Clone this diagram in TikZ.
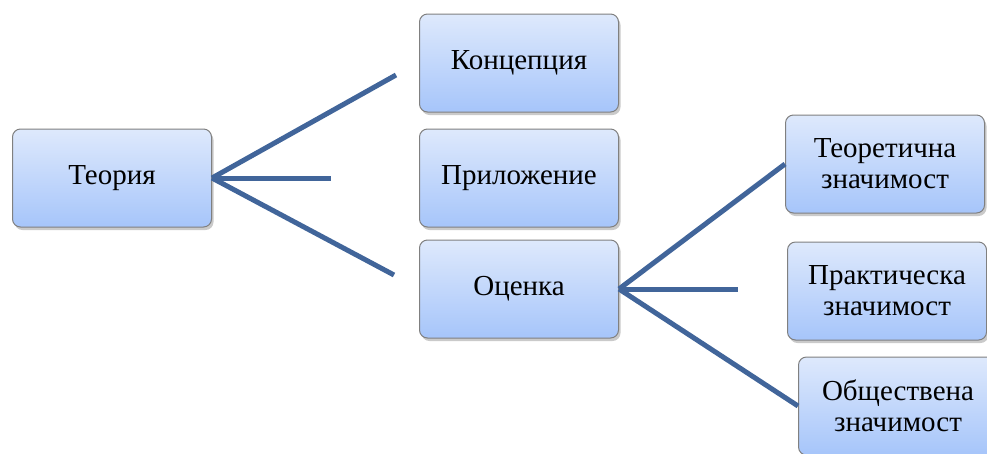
\documentclass[tikz,border=0pt]{standalone}
\usepackage{fontspec}
\setmainfont{Liberation Serif}
\usetikzlibrary{shadows}
\definecolor{boxtop}{RGB}{222,233,252}
\definecolor{boxbottom}{RGB}{166,197,250}
\definecolor{boxline}{RGB}{128,128,128}
\definecolor{branch}{RGB}{65,101,154}
\tikzset{box/.style={draw=boxline, line width=1pt, rounded corners=8pt, top color=boxtop, bottom color=boxbottom, minimum width=199pt, minimum height=98pt, align=center, font=\fontsize{29}{31}\selectfont, drop shadow={shadow xshift=2pt, shadow yshift=-3pt, opacity=0.35, fill=black!60}}}
\tikzset{edge/.style={line width=5pt, color=branch}}

\begin{document}
\begin{tikzpicture}[x=1pt, y=-1pt]
        \useasboundingbox (0,0) rectangle (987,453);

        \node[box] (teoria) at (112,178) {Теория};
        \node[box] (koncepcia) at (519,63) {Концепция};
        \node[box] (prilozhenie) at (519,178) {Приложение};
        \node[box] (ocenka) at (519,289) {Оценка};

        \node[box] (teoretichna) at (885,164) {Теоретична\\значимост};
        \node[box] (prakticheska) at (887,291) {Практическа\\значимост};
        \node[box] (obshtestvena) at (898,406) {Обществена\\значимост};

        % free ends of the short branches
        \coordinate (k) at (396,75);
        \coordinate (p) at (331,178);
        \coordinate (o) at (394,275);
        \coordinate (pz) at (738,289);

        \draw[edge] (teoria.east) -- (k);
        \draw[edge] (teoria.east) -- (p);
        \draw[edge] (teoria.east) -- (o);

        \draw[edge] (ocenka.east) -- (teoretichna.west);
        \draw[edge] (ocenka.east) -- (pz);
        \draw[edge] (ocenka.east) -- (obshtestvena.west);
    \end{tikzpicture}
\end{document}
